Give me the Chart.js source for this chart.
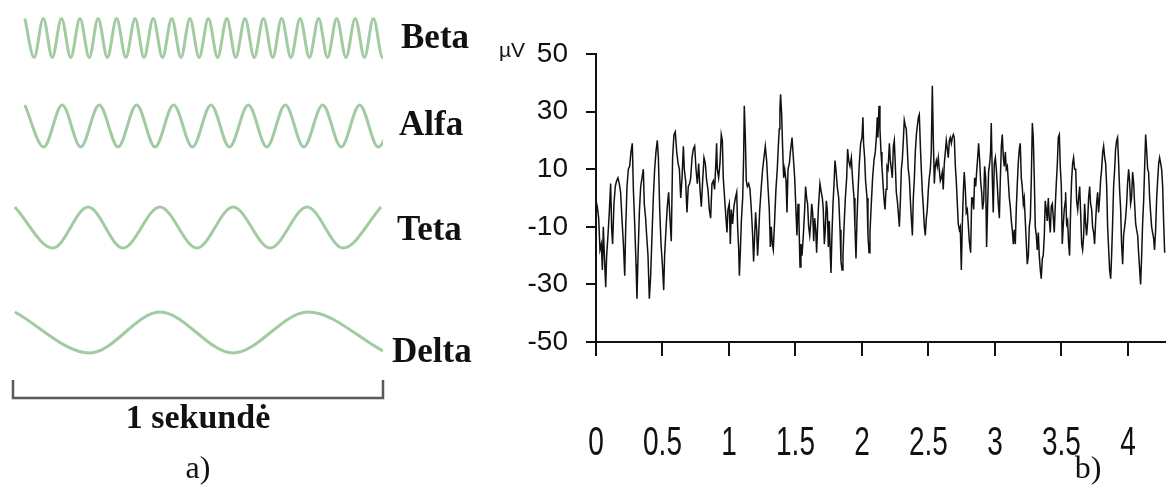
<!DOCTYPE html>
<html>
<head>
<meta charset="utf-8">
<script src="https://cdn.jsdelivr.net/npm/chart.js@4.4.1/dist/chart.umd.min.js"></script>
<style>
  html, body { margin: 0; padding: 0; background: #fff; }
  #wrap { position: relative; width: 1166px; height: 491px; overflow: hidden; }
  canvas { position: absolute; top: 0; }
  #waves { left: 0; }
  #eeg { left: 480px; }
</style>
</head>
<body>
<div id="wrap">
  <canvas id="waves" width="480" height="491"></canvas>
  <canvas id="eeg" width="686" height="491"></canvas>
</div>
<script>
// a) rhythm waves: times (s, within the 1 second bracket) of peaks / troughs
const betaTimes = [0.032, 0.057, 0.082, 0.106, 0.131, 0.156, 0.181, 0.206, 0.230, 0.255,
  0.280, 0.305, 0.330, 0.354, 0.379, 0.404, 0.429, 0.454, 0.478, 0.503,
  0.528, 0.553, 0.578, 0.602, 0.627, 0.652, 0.677, 0.702, 0.726, 0.751,
  0.776, 0.801, 0.826, 0.850, 0.875, 0.900, 0.925, 0.950, 0.974, 0.999, 1.024];
const betaValues = [1, -1, 1, -1, 1, -1, 1, -1, 1, -1, 1, -1, 1, -1, 1, -1, 1, -1, 1, -1,
  1, -1, 1, -1, 1, -1, 1, -1, 1, -1, 1, -1, 1, -1, 1, -1, 1, -1, 1, -1, 1];
const alfaTimes = [0.032, 0.083, 0.133, 0.183, 0.233, 0.284, 0.334, 0.384, 0.434, 0.485,
  0.535, 0.585, 0.636, 0.686, 0.736, 0.786, 0.837, 0.887, 0.937, 0.987, 1.038];
const alfaValues = [1, -1, 1, -1, 1, -1, 1, -1, 1, -1, 1, -1, 1, -1, 1, -1, 1, -1, 1, -1, 1];
const tetaTimes = [0.005, 0.108, 0.203, 0.297, 0.397, 0.497, 0.595, 0.695, 0.795, 0.892, 0.995];
const tetaValues = [1, -1, 1, -1, 1, -1, 1, -1, 1, -1, 1];
const deltaTimes = [0.005, 0.208, 0.397, 0.595, 0.797, 1.0];
const deltaValues = [1, -1, 1, -1, 1, -0.9];

// b) EEG trace, [time s, µV]
const eegSeg1 = [[0.000,-1],[0.010,-3],[0.020,-7],[0.030,-18],[0.040,-16],[0.048,-25],[0.055,-10],[0.063,-20],[0.073,-31],[0.080,-20],
  [0.090,-13],[0.100,-5],[0.110,5],[0.118,-11],[0.125,-16],[0.135,-2],[0.145,4],[0.155,6],[0.165,7],[0.175,5],
  [0.185,2],[0.195,-7],[0.206,-16],[0.216,-27],[0.223,-11],[0.233,4],[0.243,10],[0.253,11],[0.263,16],[0.273,19],
  [0.281,3],[0.291,-9],[0.301,-23],[0.308,-35],[0.316,-20],[0.326,-5],[0.336,4],[0.346,7],[0.356,10],[0.363,-2],
  [0.373,-7],[0.381,-13],[0.391,-20],[0.401,-35],[0.411,-27],[0.421,-13],[0.431,0],[0.441,10],[0.451,16],[0.461,20],
  [0.469,14],[0.479,-4],[0.489,-16],[0.499,-23],[0.509,-32],[0.516,-20],[0.526,-11],[0.536,-3],[0.546,2],[0.556,-7],
  [0.566,-15],[0.576,14],[0.586,22],[0.596,23],[0.607,16],[0.617,12],[0.627,10],[0.637,0],[0.647,7],[0.657,18],
  [0.664,10],[0.674,6],[0.684,-5],[0.694,4],[0.704,5]];
const eegSeg2 = [[0.712,7],[0.722,14],[0.732,17],[0.742,18],[0.752,10],[0.762,5],[0.772,12],[0.782,3],[0.792,-3],[0.802,6],
  [0.812,14],[0.822,12],[0.832,6],[0.842,3],[0.852,-4],[0.862,-7],[0.872,5],[0.882,6],[0.892,3],[0.902,13],
  [0.907,19],[0.912,10],[0.922,7],[0.932,12],[0.942,22],[0.950,20],[0.957,7],[0.967,0],[0.977,-7],[0.985,-12],
  [0.992,-4],[1.002,-2],[1.010,-16],[1.017,-4],[1.027,-9],[1.037,-3],[1.048,0],[1.058,2],[1.065,-10],[1.073,-18],
  [1.078,-27],[1.085,-19],[1.093,-8],[1.103,0],[1.110,14],[1.115,32],[1.123,21],[1.130,6],[1.138,4],[1.148,5],
  [1.158,3],[1.168,-4],[1.178,-13],[1.185,-22],[1.193,-13],[1.200,-5],[1.208,-11],[1.215,-20],[1.223,-13],[1.230,-5],
  [1.243,4],[1.253,10],[1.263,14],[1.273,18],[1.283,13],[1.293,4],[1.303,-4],[1.311,-17],[1.318,-10],[1.326,-16],
  [1.333,-18],[1.343,-8],[1.353,3],[1.363,10],[1.371,18],[1.378,24],[1.383,31],[1.388,36],[1.396,29],[1.403,18],
  [1.411,7]];
const eegSeg3 = [[1.419,10],[1.429,6],[1.436,-5],[1.444,10],[1.454,12],[1.464,17],[1.474,21],[1.484,14],[1.494,7],[1.504,-5],
  [1.511,-13],[1.519,-2],[1.526,-8],[1.534,-24],[1.541,-16],[1.549,-20],[1.559,-13],[1.569,-4],[1.576,4],[1.584,0],
  [1.591,-2],[1.599,-10],[1.607,-13],[1.614,-9],[1.622,-2],[1.629,-5],[1.637,-15],[1.644,-7],[1.652,-11],[1.659,-19],
  [1.667,-9],[1.674,-2],[1.684,5],[1.694,2],[1.702,0],[1.709,-4],[1.717,-16],[1.724,-11],[1.732,-1],[1.739,-4],
  [1.747,-17],[1.754,-8],[1.762,-20],[1.767,-26],[1.774,-13],[1.782,-2],[1.789,4],[1.797,13],[1.804,10],[1.814,4],
  [1.825,0],[1.835,-11],[1.842,-22],[1.850,-25],[1.857,-20],[1.865,-10],[1.875,0],[1.885,7],[1.892,17],[1.900,13],
  [1.910,11],[1.920,14],[1.930,6],[1.940,0],[1.947,-10],[1.955,-21],[1.962,-8],[1.970,2],[1.980,12],[1.990,19],
  [2.000,21],[2.007,28],[2.012,19],[2.020,14],[2.027,6],[2.038,0],[2.045,-13],[2.053,-19],[2.060,-12],[2.070,-2],
  [2.080,7],[2.090,13],[2.100,16],[2.108,21],[2.115,28]];
const eegSeg4 = [[2.120,21],[2.128,32],[2.135,24],[2.143,16],[2.150,11],[2.158,5],[2.165,0],[2.173,-4],[2.181,3],[2.188,11],
  [2.196,10],[2.206,19],[2.213,13],[2.221,10],[2.228,7],[2.236,18],[2.243,20],[2.251,11],[2.258,2],[2.266,-1],
  [2.273,-5],[2.281,-10],[2.288,-2],[2.296,10],[2.303,13],[2.311,20],[2.318,27],[2.326,25],[2.333,24],[2.341,17],
  [2.348,10],[2.356,7],[2.363,0],[2.371,-7],[2.379,-13],[2.386,0],[2.394,7],[2.401,16],[2.409,22],[2.416,25],
  [2.424,28],[2.431,29],[2.439,18],[2.446,10],[2.454,2],[2.461,-3],[2.469,-10],[2.476,-13],[2.484,-7],[2.491,-4],
  [2.499,3],[2.506,7],[2.514,10],[2.521,16],[2.529,39],[2.536,21],[2.544,5],[2.551,11],[2.559,13],[2.566,11],
  [2.574,14],[2.581,10],[2.589,6],[2.596,7],[2.604,9],[2.611,3],[2.619,12],[2.627,16],[2.634,20],[2.642,17],
  [2.649,14],[2.657,20],[2.664,21],[2.672,19],[2.679,21],[2.687,22],[2.694,21],[2.702,11],[2.709,6],[2.717,-2],
  [2.724,-9],[2.732,-11],[2.739,-10],[2.747,-25],[2.754,-10],[2.762,2],[2.769,9],[2.777,3],[2.784,-5],[2.792,-4],
  [2.799,-9],[2.807,-15],[2.817,-19],[2.825,0]];
const eegSeg5 = [[2.832,0],[2.840,-4],[2.847,7],[2.855,4],[2.862,9],[2.870,14],[2.877,19],[2.885,13],[2.892,6],[2.900,2],
  [2.907,-4],[2.915,-1],[2.922,11],[2.930,7],[2.937,-17],[2.945,-2],[2.952,9],[2.960,12],[2.967,16],[2.972,26],
  [2.980,7],[2.987,-5],[2.995,12],[3.003,14],[3.010,10],[3.018,4],[3.025,-2],[3.033,-7],[3.040,6],[3.048,18],
  [3.055,22],[3.063,14],[3.070,11],[3.078,16],[3.085,10],[3.093,11],[3.100,6],[3.108,0],[3.115,-3],[3.123,-8],
  [3.130,-11],[3.138,-16],[3.145,-11],[3.153,-16],[3.160,-4],[3.168,5],[3.175,12],[3.183,17],[3.190,19],[3.198,7],
  [3.205,4],[3.213,-2],[3.220,0],[3.228,-8],[3.236,-16],[3.243,-23],[3.251,-20],[3.258,-10],[3.266,-7],[3.273,6],
  [3.281,26],[3.288,21],[3.296,6],[3.303,-10],[3.311,-13],[3.318,-18],[3.326,-12],[3.333,-20],[3.341,-25],[3.348,-28],
  [3.356,-21],[3.363,-20],[3.371,-13],[3.378,-1],[3.386,-4],[3.393,-8],[3.401,0],[3.408,-7],[3.416,-12],[3.423,-3],
  [3.431,-2],[3.439,-7],[3.446,-12],[3.454,-2],[3.461,5],[3.469,12],[3.476,21],[3.484,22],[3.491,11],[3.499,4],
  [3.506,-16],[3.514,-9],[3.521,-4],[3.529,-1]];
const eegSeg6 = [[3.531,2],[3.539,-9],[3.546,-8],[3.554,-16],[3.561,-20],[3.569,-4],[3.576,6],[3.584,12],[3.591,14],[3.599,10],
  [3.607,10],[3.614,-1],[3.622,-4],[3.629,0],[3.637,4],[3.644,-5],[3.652,-16],[3.659,-18],[3.667,-13],[3.674,-2],
  [3.682,-9],[3.689,-13],[3.697,-8],[3.704,0],[3.712,4],[3.719,-2],[3.727,-4],[3.734,-10],[3.742,-12],[3.749,-16],
  [3.757,-8],[3.764,-2],[3.772,2],[3.779,-5],[3.787,0],[3.794,6],[3.802,10],[3.810,16],[3.817,18],[3.825,14],
  [3.832,12],[3.840,4],[3.847,-10],[3.855,-18],[3.862,-25],[3.870,-28],[3.877,-20],[3.885,-8],[3.892,4],[3.900,10],
  [3.907,17],[3.915,20],[3.922,21],[3.930,12],[3.937,3],[3.945,-4],[3.952,-16],[3.960,-23],[3.967,-13],[3.975,-10],
  [3.982,-7],[3.990,-2],[3.997,5],[4.005,10],[4.012,6],[4.020,-2],[4.027,0],[4.035,9],[4.043,5],[4.050,-2],
  [4.058,-9],[4.065,-11],[4.073,-13],[4.080,-19],[4.088,-25],[4.095,-30],[4.103,-20],[4.110,-9],[4.118,-1],[4.125,10],
  [4.133,22],[4.140,17],[4.148,10],[4.155,9],[4.163,0],[4.170,-5],[4.178,-10],[4.185,-12],[4.193,-14],[4.200,-18],
  [4.208,-11],[4.216,0],[4.223,6],[4.231,12],[4.238,14],[4.246,12],[4.253,10],[4.261,4],[4.268,-8],[4.276,-19]];

const xTicks = [0, 0.5, 1, 1.5, 2, 2.5, 3, 3.5, 4];
const xTickLabels = ["0", "0.5", "1", "1.5", "2", "2.5", "3", "3.5", "4"];
const yTicks = [-50, -30, -10, 10, 30, 50];

const waveNames = ["Beta", "Alfa", "Teta", "Delta"];
const waveColor = "#a2cba2";
const serif = "'Liberation Serif', 'Times New Roman', serif";
const sans = "'Liberation Sans', Arial, sans-serif";

function toPoints(times, values) {
  return times.map((t, i) => ({ x: t, y: values[i] }));
}

// each wave gets its own hidden y axis so it sits on its own row
function waveAxis(center, half) {
  const max = 1 + (center - half) / half;
  return { display: false, min: max - 491 / half, max: max };
}

function waveSet(times, values, axis) {
  return {
    data: toPoints(times, values),
    yAxisID: axis,
    borderColor: waveColor,
    borderWidth: 3,
    pointRadius: 0,
    cubicInterpolationMode: "monotone",
    fill: false,
  };
}

const waveDecor = {
  id: "waveDecor",
  afterDraw(chart) {
    const ctx = chart.ctx;
    const xs = chart.scales.x;
    ctx.save();
    ctx.fillStyle = "#111";
    ctx.font = "bold 35px " + serif;
    ctx.textAlign = "left";
    ctx.textBaseline = "alphabetic";
    ctx.fillText(waveNames[0], 401, 48);
    ctx.fillText(waveNames[1], 399, 135);
    ctx.fillText(waveNames[2], 397, 240);
    ctx.fillText(waveNames[3], 392, 362);

    // 1 second bracket
    const x0 = xs.getPixelForValue(0);
    const x1 = xs.getPixelForValue(1);
    ctx.strokeStyle = "#5a5a5a";
    ctx.lineWidth = 2.5;
    ctx.beginPath();
    ctx.moveTo(x0, 380);
    ctx.lineTo(x0, 398);
    ctx.lineTo(x1, 398);
    ctx.lineTo(x1, 380);
    ctx.stroke();

    ctx.textAlign = "center";
    ctx.font = "bold 34px " + serif;
    ctx.fillText("1 sekundė", (x0 + x1) / 2, 428);
    ctx.font = "32px " + serif;
    ctx.fillText("a)", (x0 + x1) / 2, 478);
    ctx.restore();
  },
};

new Chart(document.getElementById("waves"), {
  type: "line",
  data: {
    datasets: [
      waveSet(betaTimes, betaValues, "beta"),
      waveSet(alfaTimes, alfaValues, "alfa"),
      waveSet(tetaTimes, tetaValues, "teta"),
      waveSet(deltaTimes, deltaValues, "delta"),
    ],
  },
  options: {
    responsive: false,
    animation: false,
    events: [],
    layout: { padding: { left: 13, right: 97, top: 0, bottom: 0 } },
    plugins: { legend: { display: false }, tooltip: { enabled: false } },
    scales: {
      x: { type: "linear", display: false, min: 0, max: 1 },
      beta: waveAxis(38, 19.5),
      alfa: waveAxis(126, 21),
      teta: waveAxis(227.5, 20.5),
      delta: waveAxis(332.5, 20.5),
    },
  },
  plugins: [waveDecor],
});

// b) EEG chart
const eegDecor = {
  id: "eegDecor",
  afterDraw(chart) {
    const ctx = chart.ctx;
    const xs = chart.scales.x;
    const ys = chart.scales.y;
    ctx.save();
    ctx.fillStyle = "#111";
    ctx.textAlign = "center";
    ctx.textBaseline = "alphabetic";
    ctx.font = "40px " + sans;
    xTicks.forEach((v, i) => {
      ctx.save();
      ctx.translate(xs.getPixelForValue(v), 455);
      ctx.scale(0.7, 1);
      ctx.fillText(xTickLabels[i], 0, 0);
      ctx.restore();
    });
    ctx.font = "21px " + sans;
    ctx.fillText("µV", 32, ys.getPixelForValue(50) + 3);
    ctx.font = "32px " + serif;
    ctx.fillText("b)", 608, 478);
    ctx.restore();
  },
};

new Chart(document.getElementById("eeg"), {
  type: "line",
  data: {
    datasets: [{
      data: [...eegSeg1, ...eegSeg2, ...eegSeg3, ...eegSeg4, ...eegSeg5, ...eegSeg6].map(([t, v]) => ({ x: t, y: v })),
      borderColor: "#111",
      borderWidth: 1.5,
      pointRadius: 0,
      tension: 0,
      fill: false,
    }],
  },
  options: {
    responsive: false,
    animation: false,
    events: [],
    layout: { padding: { left: 0, right: 0, top: 54, bottom: 0 } },
    plugins: { legend: { display: false }, tooltip: { enabled: false } },
    scales: {
      x: {
        type: "linear",
        min: 0,
        max: 4.286,
        afterBuildTicks: (s) => { s.ticks = xTicks.map((v) => ({ value: v })); },
        afterFit: (s) => { s.height = 149; },
        ticks: { display: false },
        grid: { drawOnChartArea: false, drawTicks: true, tickLength: 14, color: "#111", lineWidth: 2 },
        border: { display: true, color: "#111", width: 2 },
      },
      y: {
        min: -50,
        max: 50,
        afterBuildTicks: (s) => { s.ticks = yTicks.map((v) => ({ value: v })); },
        afterFit: (s) => { s.width = 116; },
        ticks: { color: "#111", padding: 18, font: { family: sans, size: 28 } },
        grid: { drawOnChartArea: false, drawTicks: true, tickLength: 10, color: "#111", lineWidth: 2 },
        border: { display: true, color: "#111", width: 2 },
      },
    },
  },
  plugins: [eegDecor],
});
</script>
</body>
</html>
